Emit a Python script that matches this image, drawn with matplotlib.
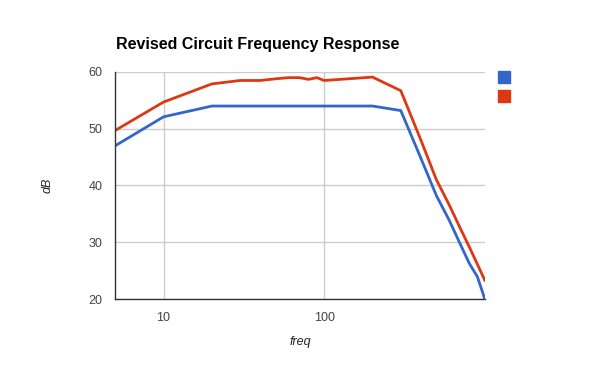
import matplotlib.pyplot as plt
import numpy as np
from matplotlib.patches import Rectangle

# frequency points (Hz) and responses (dB)
freq = [5, 10, 20, 30, 40, 50, 60, 70, 80, 90, 100, 200, 300, 400, 500, 600, 700, 800, 900, 1000]
original = [47.0, 52.1, 54.0, 54.0, 54.0, 54.0, 54.0, 54.0, 54.0, 54.0, 54.0, 54.0, 53.2,
            44.8, 38.2, 33.9, 29.8, 26.3, 23.9, 20.0]
revised = [49.7, 54.7, 57.9, 58.5, 58.5, 58.8, 59.0, 59.0, 58.7, 59.0, 58.5, 59.1, 56.7,
           48.0, 41.0, 36.6, 32.6, 29.2, 26.1, 23.3]
y_ticks = [20, 30, 40, 50, 60]
x_ticks = [10, 100]
colors = ["#3366cc", "#dc3912"]

plt.rcParams["font.family"] = ["Liberation Sans", "DejaVu Sans"]

fig = plt.figure(figsize=(6, 3.71), dpi=100)
ax = fig.add_axes([0.192, 0.194, 0.616, 0.612])

ax.plot(freq, original, color=colors[0], lw=2, solid_joinstyle="round")
ax.plot(freq, revised, color=colors[1], lw=2, solid_joinstyle="round")

ax.set_xscale("log")
ax.set_xlim(5, 1000)
ax.set_ylim(20, 60)
ax.set_xticks(x_ticks)
ax.set_xticklabels([str(t) for t in x_ticks])
ax.xaxis.set_minor_locator(plt.NullLocator())
ax.set_yticks(y_ticks)
ax.grid(True, color="#cccccc", lw=1)
ax.set_axisbelow(True)
ax.tick_params(length=0, labelsize=9, labelcolor="#444444", pad=9)

for side in ["top", "right"]:
    ax.spines[side].set_visible(False)
for side in ["left", "bottom"]:
    ax.spines[side].set_color("#333333")
    ax.spines[side].set_linewidth(1)

ax.set_xlabel("freq", fontsize=9, style="italic", color="#222222", labelpad=9)
ax.set_ylabel("dB", fontsize=9, style="italic", color="#222222", labelpad=25)

fig.text(116 / 600, 1 - 45 / 371, "Revised Circuit Frequency Response",
         fontsize=11.5, fontweight="bold", va="center", ha="left")

# legend squares without labels
for i, c in enumerate(colors):
    y0 = 1 - (83 + i * 19) / 371
    fig.patches.append(Rectangle((498 / 600, y0), 12 / 600, 12 / 371,
                                 transform=fig.transFigure, color=c))

fig.savefig("out.png", dpi=100)
